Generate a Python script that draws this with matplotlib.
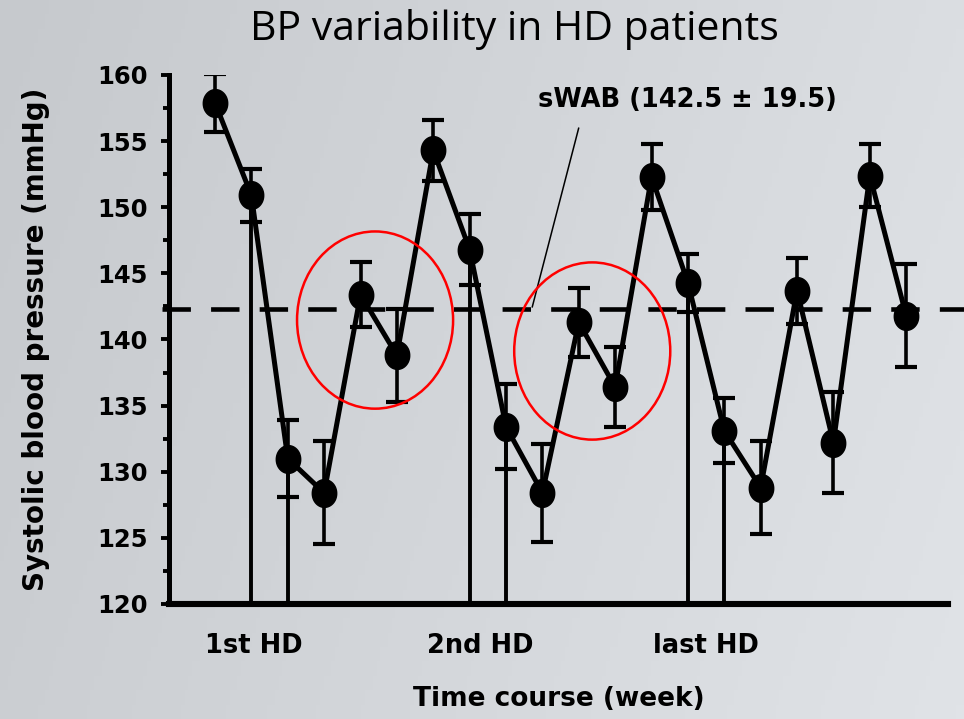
import numpy as np
import matplotlib
matplotlib.use("Agg")
import matplotlib.pyplot as plt
from matplotlib.patches import Ellipse
from matplotlib.path import Path

visita = np.arange(1, 21)
pas = [157.9, 150.9, 131.0, 128.4, 143.4, 138.8, 154.3, 146.8, 133.4, 128.4,
       141.3, 136.4, 152.3, 144.3, 133.1, 128.8, 143.7, 132.2, 152.4, 141.8]
error = [2.2, 2.0, 2.9, 3.9, 2.45, 3.5, 2.3, 2.7, 3.2, 3.7,
         2.6, 3.0, 2.5, 2.2, 2.45, 3.5, 2.5, 3.8, 2.4, 3.9]
sesiones_hd = [2, 3, 8, 9, 14, 15]   # visitas con linea vertical
etiquetas_x = ['1st HD', '2nd HD', 'last HD']
pos_etiquetas = [2.07, 8.29, 14.5]
swab = 142.3

fig = plt.figure(figsize=(9.64, 7.19), dpi=100)

# fondo gris con degradado
bg = fig.add_axes([0, 0, 1, 1], zorder=-10)
grad = np.linspace(0, 1, 256)[None, :] * np.ones((50, 1))
grad = grad * 0.8 + np.linspace(0, 0.2, 50)[:, None]
bg.imshow(grad, aspect='auto', cmap=matplotlib.colors.LinearSegmentedColormap.from_list(
    'g', ['#c6c9cd', '#e0e3e7']), extent=[0, 1, 0, 1])
bg.axis('off')

ax = fig.add_axes([169/964, 115/719, 779/964, 529/719])
ax.patch.set_alpha(0)

# marcador eliptico (un poco mas alto que ancho)
t = np.linspace(0, 2*np.pi, 60)
elipse = Path(np.column_stack([0.88*np.cos(t), np.sin(t)]))

x = visita
y = np.array(pas)

for i in sesiones_hd:
    ax.vlines(x[i-1], 120, y[i-1], color='black', lw=2.8, zorder=2)

ax.plot([-0.45, 21.6], [swab, swab], color='black', lw=3.3, dashes=(6.2, 4.4),
        clip_on=False, zorder=2)

ax.plot(x, y, color='black', lw=3.6, zorder=3)
ax.errorbar(x, y, yerr=error, fmt='none', ecolor='black', elinewidth=2.6,
            capsize=8, capthick=3, zorder=3)
ax.plot(x, y, linestyle='none', marker=elipse, markersize=20,
        color='black', zorder=4)

# circulos rojos
for cx, cy in [(5.40, 141.47), (11.37, 139.13)]:
    ax.add_patch(Ellipse((cx, cy), 4.29, 13.4, fill=False, edgecolor='red',
                         lw=1.8, zorder=5))

ax.annotate('sWAB (142.5 ± 19.5)', xy=(9.72, 142.45), xytext=(13.98, 158.1),
            ha='center', va='center', fontsize=18.5, fontweight='bold',
            arrowprops=dict(arrowstyle='-', color='black', lw=1.1,
                            relpos=(0.15, 0), shrinkA=9, shrinkB=0))

ax.set_xlim(-0.265, 21.15)
ax.set_ylim(120, 160)
ax.set_yticks(np.arange(120, 161, 5))
ax.set_yticks(np.arange(122.5, 160, 5), minor=True)
ax.set_xticks(pos_etiquetas)
ax.set_xticklabels(etiquetas_x)
for lab in ax.get_yticklabels() + ax.get_xticklabels():
    lab.set_fontweight('bold')
ax.tick_params(axis='y', which='major', length=6, width=2.8, labelsize=17.5, pad=9.5)
ax.tick_params(axis='y', which='minor', length=4, width=2.8)
ax.tick_params(axis='x', length=0, labelsize=18.5, pad=21)

ax.spines['top'].set_visible(False)
ax.spines['right'].set_visible(False)
ax.spines['left'].set_linewidth(3.6)
ax.spines['bottom'].set_linewidth(4.4)

ax.set_ylabel('Systolic blood pressure (mmHg)', fontsize=20, fontweight='bold', labelpad=34)
ax.set_xlabel('Time course (week)', fontsize=19, fontweight='bold', labelpad=19)

fig.text(514/964, 1 - 40/719, 'BP variability in HD patients', ha='center', va='baseline',
         fontsize=29.5, family='Open Sans')

fig.savefig('out.png', dpi=100)
